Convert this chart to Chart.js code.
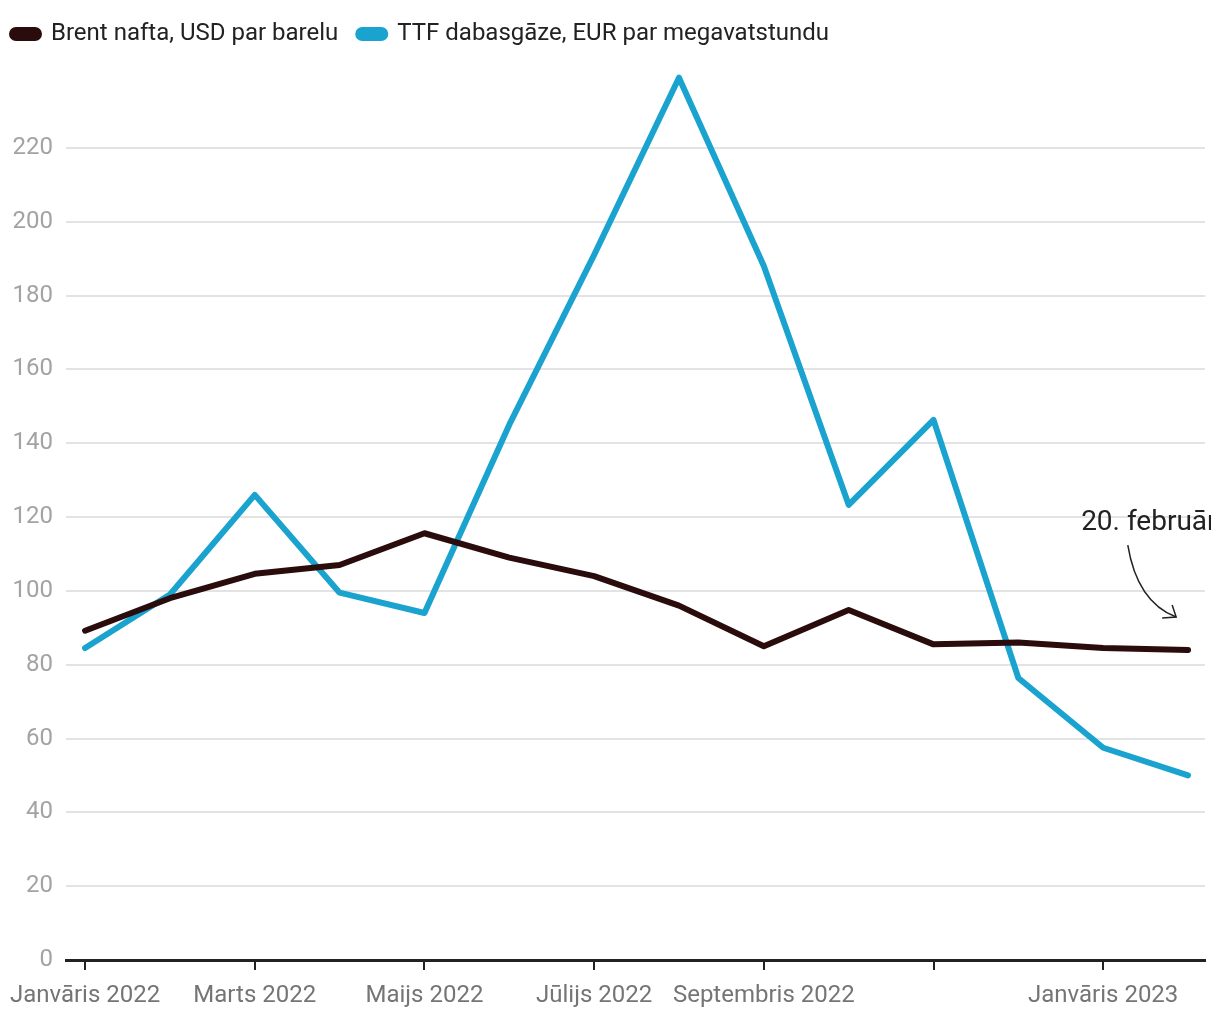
<!DOCTYPE html>
<html lang="lv">
<head>
  <meta charset="UTF-8" />
  <title>Brent un TTF cenas</title>
  <script src="https://cdn.jsdelivr.net/npm/chart.js"></script>
  <style>
    body { margin: 0; background: #fff; }
    #wrap { width: 1220px; height: 1020px; }
  </style>
</head>
<body>
  <div id="wrap"><canvas id="chart"></canvas></div>
  <script>
    // Mēneši no janvāra 2022 līdz februārim 2023
    const months = ["2022-01", "2022-02", "2022-03", "2022-04", "2022-05", "2022-06", "2022-07",
                    "2022-08", "2022-09", "2022-10", "2022-11", "2022-12", "2023-01", "2023-02"];
    const brent = [89.2, 98, 104.6, 107, 115.6, 109, 104, 96, 85, 94.8, 85.5, 86, 84.5, 84];
    const ttf = [84.5, 99, 126, 99.5, 94, 145, 191, 239, 188, 123.3, 146.3, 76.4, 57.5, 50];
    const xTickLabels = ["Janvāris 2022", "Marts 2022", "Maijs 2022", "Jūlijs 2022",
                         "Septembris 2022", "", "Janvāris 2023"];
    const yTicks = [0, 20, 40, 60, 80, 100, 120, 140, 160, 180, 200, 220];

    const BRENT_COLOR = "#2b0c0c";
    const TTF_COLOR = "#1aa3cf";

    // bultiņa ar uzrakstu "20. februārī" (oriģinālā nogriezts pie malas)
    const notePlugin = {
      id: "note",
      afterDatasetsDraw(chart) {
        const { ctx, scales: { x, y } } = chart;
        ctx.save();
        ctx.beginPath();
        ctx.rect(0, 0, chart.chartArea.right + 6, chart.height);
        ctx.clip();
        ctx.font = "28px Roboto";
        ctx.fillStyle = "#222";
        ctx.textBaseline = "alphabetic";
        ctx.fillText("20. februārī", x.getPixelForValue(11.74), y.getPixelForValue(116.5));

        const x0 = x.getPixelForValue(12.29), y0 = y.getPixelForValue(112.4);
        const cx = x.getPixelForValue(12.4), cy = y.getPixelForValue(97);
        const x1 = x.getPixelForValue(12.86), y1 = y.getPixelForValue(92.9);
        ctx.strokeStyle = "#222";
        ctx.lineWidth = 1.5;
        ctx.beginPath();
        ctx.moveTo(x0, y0);
        ctx.quadraticCurveTo(cx, cy, x1, y1);
        ctx.stroke();
        ctx.beginPath();
        ctx.moveTo(x1 - 4, y1 - 12);
        ctx.lineTo(x1, y1);
        ctx.lineTo(x1 - 14, y1 + 1);
        ctx.stroke();
        ctx.restore();
      }
    };

    // vairāk vietas zem leģendas
    const legendGap = {
      id: "legendGap",
      beforeInit(chart) {
        const fit = chart.legend.fit;
        chart.legend.fit = function () {
          fit.bind(chart.legend)();
          this.height += 18;
        };
      }
    };

    new Chart(document.getElementById("chart"), {
      type: "line",
      data: {
        datasets: [
          {
            label: "Brent nafta, USD par barelu",
            data: brent.map((v, i) => ({ x: i, y: v })),
            borderColor: BRENT_COLOR,
            backgroundColor: BRENT_COLOR,
            borderWidth: 6,
            pointRadius: 0,
            borderJoinStyle: "round",
            borderCapStyle: "round",
            tension: 0
          },
          {
            label: "TTF dabasgāze, EUR par megavatstundu",
            data: ttf.map((v, i) => ({ x: i, y: v })),
            borderColor: TTF_COLOR,
            backgroundColor: TTF_COLOR,
            borderWidth: 6,
            pointRadius: 0,
            borderJoinStyle: "round",
            borderCapStyle: "round",
            tension: 0
          }
        ]
      },
      options: {
        responsive: true,
        maintainAspectRatio: false,
        animation: false,
        layout: { padding: { left: -8, right: 15, top: 2, bottom: 0 } },
        plugins: {
          legend: {
            position: "top",
            align: "start",
            labels: {
              font: { family: "Roboto", size: 24 },
              color: "#222",
              boxWidth: 27,
              boxHeight: 8,
              useBorderRadius: true,
              borderRadius: 4,
              padding: 20
            }
          },
          tooltip: { enabled: false }
        },
        scales: {
          x: {
            type: "linear",
            min: -0.225,
            max: 13.2,
            afterBuildTicks: s => { s.ticks = xTickLabels.map((_, i) => ({ value: i * 2 })); },
            afterFit: s => { s.height = 60; s.paddingLeft = 0; s.paddingRight = 0; },
            border: { display: true, color: "#222", width: 3 },
            grid: { drawOnChartArea: false, drawTicks: true, tickLength: 10, color: "#222", lineWidth: 2 },
            ticks: {
              autoSkip: false,
              maxRotation: 0,
              padding: 12,
              font: { family: "Roboto", size: 24 },
              color: "#757575",
              callback: v => xTickLabels[v / 2]
            }
          },
          y: {
            min: 0,
            max: 240,
            afterBuildTicks: s => { s.ticks = yTicks.map(v => ({ value: v })); },
            afterFit: s => { s.width = 74; },
            border: { display: false },
            grid: { color: "#e3e3e3", lineWidth: 2, drawTicks: false },
            ticks: {
              padding: 13,
              font: { family: "Roboto", size: 24 },
              color: "#a3a3a3"
            }
          }
        }
      },
      plugins: [notePlugin, legendGap]
    });
  </script>
</body>
</html>
